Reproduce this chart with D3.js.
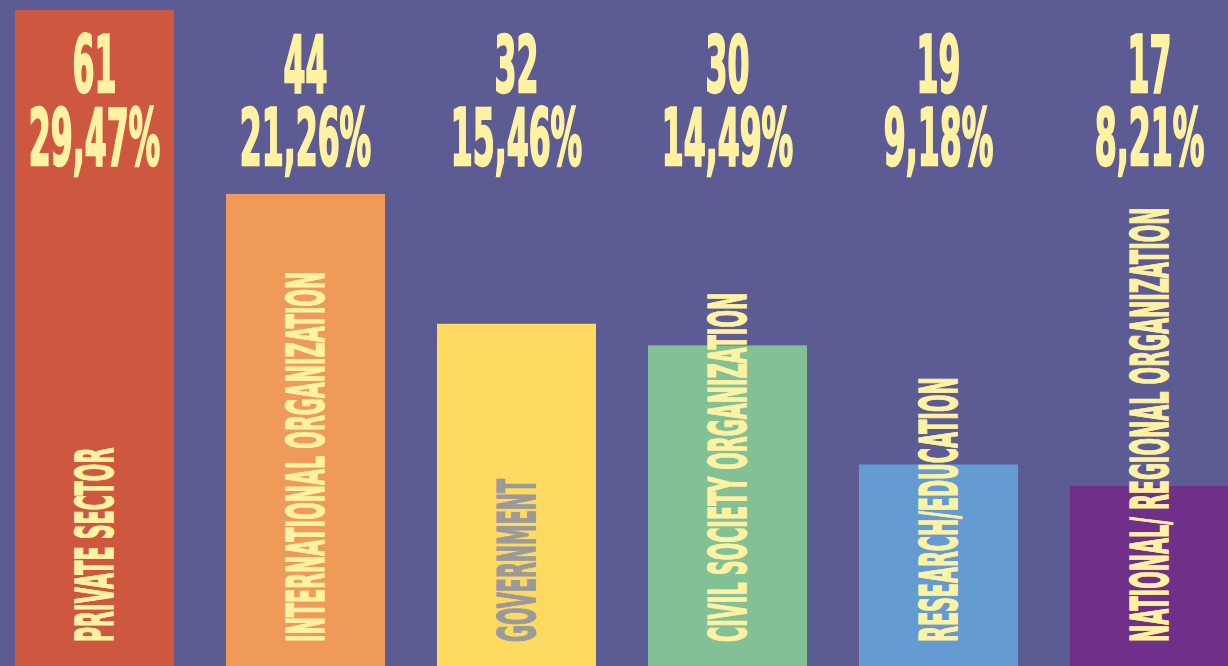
<!DOCTYPE html>
<html>
<head>
<meta charset="utf-8">
<script src="https://cdn.jsdelivr.net/npm/d3@7"></script>
<style>
  html, body { margin: 0; padding: 0; background: #5c5b93; overflow: hidden; }
  svg { display: block; }
  text { font-family: "Liberation Sans Narrow", "DejaVu Sans Condensed", sans-serif; font-weight: bold; }
</style>
</head>
<body>
<svg id="chart"></svg>
<script>
var categories = [
    "PRIVATE SECTOR",
    "INTERNATIONAL ORGANIZATION",
    "GOVERNMENT",
    "CIVIL SOCIETY ORGANIZATION",
    "RESEARCH/EDUCATION",
    "NATIONAL/ REGIONAL ORGANIZATION"
];
var counts = [61, 44, 32, 30, 19, 17];
var shares = ["29,47%", "21,26%", "15,46%", "14,49%", "9,18%", "8,21%"];
var barColors = ["#ce5740", "#f09a59", "#ffda61", "#82c096", "#659bd3", "#702f88"];
var labelColors = ["#fff3a3", "#fff3a3", "#9b9a98", "#fff3a3", "#fff3a3", "#fff3a3"];

var width = 1228,
    height = 666;
var textColor = "#fff3a3";

var svg = d3.select("#chart").attr("width", width).attr("height", height);

svg.append("rect")
    .attr("width", width)
    .attr("height", height)
    .attr("fill", "#5c5b93");

var data = categories.map(function(c, i) {
    return { name: c, value: counts[i], share: shares[i], color: barColors[i], labelColor: labelColors[i] };
});

// bars run past the bottom edge of the picture
var x = d3.scaleBand()
    .domain(categories)
    .range([15, 1229])
    .paddingInner(0.2464)
    .paddingOuter(0);

var y = d3.scaleLinear().domain([0, 61]).range([670, 10]);

svg.selectAll(".bar")
    .data(data)
    .enter()
    .append("rect")
    .attr("class", "bar")
    .attr("x", function(d) { return x(d.name); })
    .attr("y", function(d) { return y(d.value); })
    .attr("width", x.bandwidth())
    .attr("height", function(d) { return y(0) - y(d.value); })
    .attr("fill", function(d) { return d.color; });

// count + percentage on top
var topG = svg.selectAll(".top")
    .data(data)
    .enter()
    .append("g")
    .attr("class", "top")
    .attr("transform", function(d) {
        return "translate(" + (x(d.name) + x.bandwidth() / 2) + ",0)";
    });

topG.append("text")
    .attr("transform", "translate(0,92) scale(0.45,1)")
    .attr("text-anchor", "middle")
    .attr("font-size", 78)
    .attr("fill", textColor)
    .attr("stroke", textColor)
    .attr("stroke-width", 2.5)
    .text(function(d) { return d.value; });

topG.append("text")
    .attr("transform", "translate(0,165) scale(0.45,1)")
    .attr("text-anchor", "middle")
    .attr("font-size", 78)
    .attr("fill", textColor)
    .attr("stroke", textColor)
    .attr("stroke-width", 2.5)
    .text(function(d) { return d.share; });

// vertical category names
svg.selectAll(".cat")
    .data(data)
    .enter()
    .append("text")
    .attr("class", "cat")
    .attr("transform", function(d) {
        return "translate(" + (x(d.name) + x.bandwidth() / 2) + ",642) rotate(-90) scale(0.45,1)";
    })
    .attr("dy", "0.36em")
    .attr("font-size", 51)
    .attr("fill", function(d) { return d.labelColor; })
    .attr("stroke", function(d) { return d.labelColor; })
    .attr("stroke-width", 1.5)
    .text(function(d) { return d.name; });
</script>
</body>
</html>
